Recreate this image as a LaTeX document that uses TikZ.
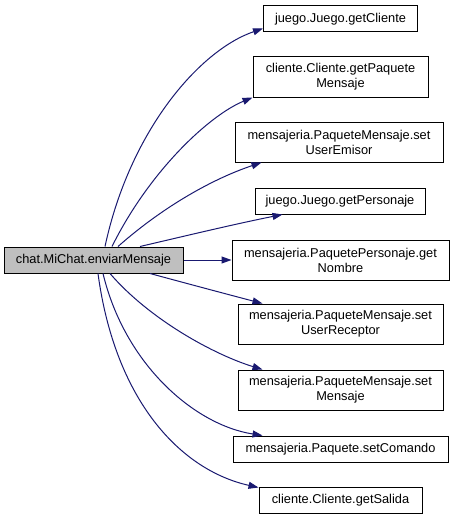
\documentclass[tikz,border=0pt]{standalone}
\usepackage{fontspec}
\setmainfont{Liberation Sans}
\usetikzlibrary{arrows.meta,calc}
\definecolor{edgeblue}{HTML}{191970}
\definecolor{srcgray}{HTML}{BFBFBF}
\tikzset{
  fn/.style={draw=black,line width=1pt,fill=white,inner sep=0pt,
    minimum height=26,align=center,font=\fontsize{12.8}{15}\selectfont},
  fn2/.style={fn,minimum height=40},
  call/.style={edgeblue,line width=1pt,-{Triangle[length=10pt,width=7pt]}},
}

\begin{document}
\begin{tikzpicture}[x=1pt,y=-1pt]
    \useasboundingbox (0,0) rectangle (455,519);
    \node[fn,fill=srcgray,minimum width=179] (enviar) at (93.5,260) {chat.MiChat.enviarMensaje};
    \node[fn,minimum width=154] (getcli) at (340.5,19) {juego.Juego.getCliente};
    \node[fn2,minimum width=175] (getpaq) at (340.5,77) {cliente.Cliente.getPaquete\\Mensaje};
    \node[fn2,minimum width=208] (setemi) at (339,142) {mensajeria.PaqueteMensaje.set\\UserEmisor};
    \node[fn,minimum width=170] (getper) at (340,201) {juego.Juego.getPersonaje};
    \node[fn2,minimum width=217] (getnom) at (340.5,260) {mensajeria.PaquetePersonaje.get\\Nombre};
    \node[fn2,minimum width=205] (setrec) at (340.5,324) {mensajeria.PaqueteMensaje.set\\UserReceptor};
    \node[fn2,minimum width=205] (setmen) at (340.5,390) {mensajeria.PaqueteMensaje.set\\Mensaje};
    \node[fn,minimum width=215] (setcom) at (340.5,449) {mensajeria.Paquete.setComando};
    \node[fn,minimum width=163] (getsal) at (340.5,500) {cliente.Cliente.getSalida};
    % calls going up
    \draw[call] ($(enviar.north)+(11.5,0)$) .. controls (130,130) and (200,50) .. ($(getcli.south west)+(0,-4)$);
    \draw[call] ($(enviar.north)+(18.5,0)$) .. controls (150,170) and (210,115) .. (getpaq.south west);
    \draw[call] ($(enviar.north)+(24.5,0)$) .. controls (165,205) and (215,178) .. ($(setemi.south west)+(27,0)$);
    \draw[call] ($(enviar.north)+(46.5,0)$) .. controls (185,236) and (235,224) .. ($(getper.south west)+(28,0)$);
    \draw[call] (enviar.east) -- (getnom.west);
    % calls going down
    \draw[call] ($(enviar.south)+(56.5,0)$) .. controls (185,283) and (230,295) .. ($(setrec.north west)+(25,0)$);
    \draw[call] ($(enviar.south)+(16.5,0)$) .. controls (150,320) and (215,355) .. ($(setmen.north west)+(25,0)$);
    \draw[call] ($(enviar.south)+(9.5,0)$) .. controls (125,365) and (195,425) .. ($(setcom.north west)+(30,0)$);
    \draw[call] ($(enviar.south)+(4.5,0)$) .. controls (115,400) and (180,470) .. ($(getsal.north west)+(0,1)$);
\end{tikzpicture}
\end{document}
